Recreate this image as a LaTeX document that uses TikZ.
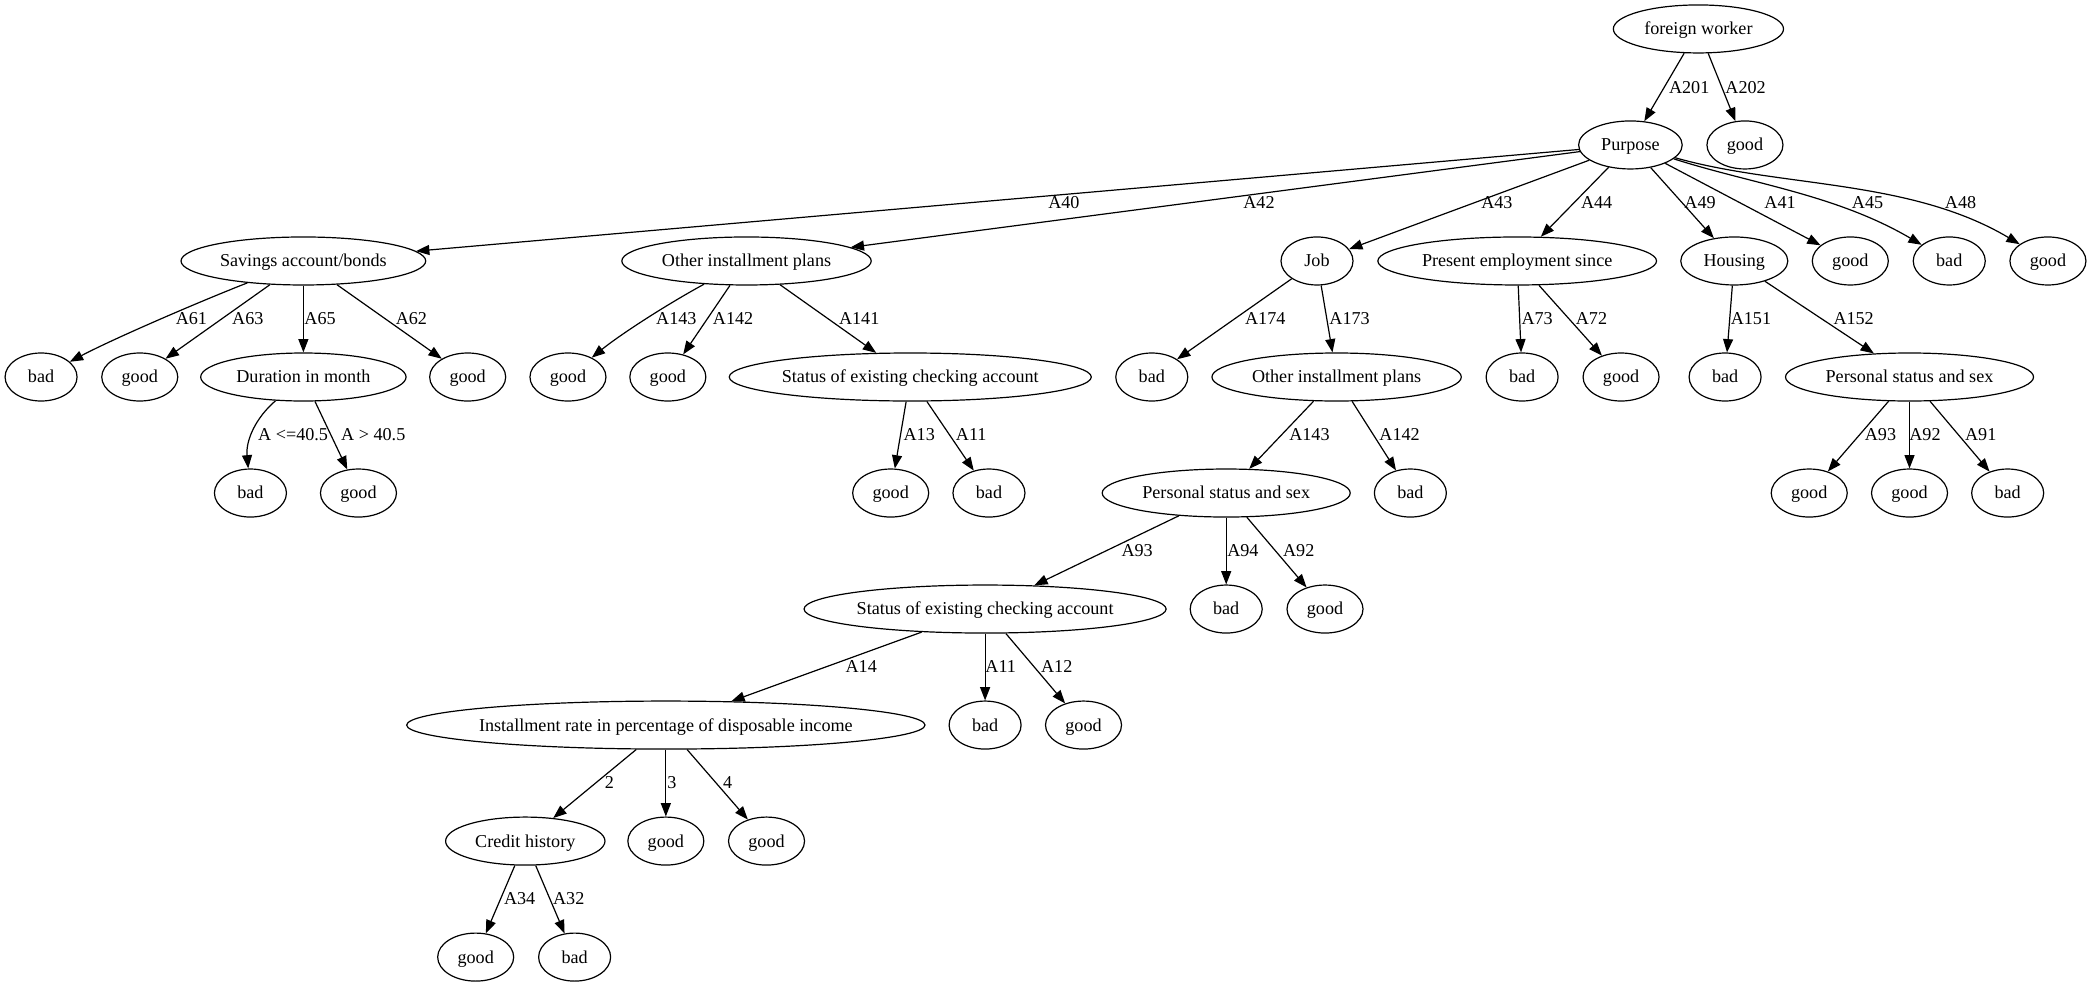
\documentclass[tikz,border=0pt]{standalone}
\usepackage{fontspec}
\setmainfont{Liberation Serif}
\usetikzlibrary{arrows.meta,shapes.geometric}
\newcommand{\zb}[1]{\makebox[0pt]{#1}}
\begin{document}
\begin{tikzpicture}[x=1pt,y=-1pt,
  txt/.style={font=\fontsize{13.6}{16}\selectfont, inner sep=0pt, text height=8.9pt, text depth=0pt},
  nd/.style={txt, draw, ellipse, line width=0.9pt, minimum height=36pt, minimum width=#1},
  gd/.style={nd=57pt},
  bd/.style={nd=54pt},
  lbl/.style={txt},
  conn/.style={line width=0.9pt, -{Triangle[length=10pt,width=7.5pt]}}
]
\useasboundingbox (0,0) rectangle (1568,740);
% row 0
\node[nd=127.6pt] (fw) at (1273.6,21.7) {\zb{foreign worker}};
% row 1
\node[nd=77.7pt] (pur) at (1222.6,108.7) {\zb{Purpose}};
\node[gd] (g202) at (1308.5,108.7) {\zb{good}};
% row 2
\node[nd=183.5pt] (sav) at (227.5,195.7) {\zb{Savings account/bonds}};
\node[nd=187pt] (oipa) at (559.8,195.7) {\zb{Other installment plans}};
\node[bd] (job) at (987.6,195.7) {\zb{Job}};
\node[nd=209pt] (pes) at (1137.7,195.7) {\zb{Present employment since}};
\node[nd=80.3pt] (hou) at (1300.5,195.7) {\zb{Housing}};
\node[gd] (g41) at (1387.5,195.7) {\zb{good}};
\node[bd] (b45) at (1461.7,195.7) {\zb{bad}};
\node[gd] (g48) at (1535.7,195.7) {\zb{good}};
% row 3
\node[bd] (b61) at (30.8,282.7) {\zb{bad}};
\node[gd] (g63) at (104.8,282.7) {\zb{good}};
\node[nd=154pt] (dur) at (227.5,282.7) {\zb{Duration in month}};
\node[gd] (g62) at (350.7,282.7) {\zb{good}};
\node[gd] (g143) at (425.9,282.7) {\zb{good}};
\node[gd] (g142) at (500.8,282.7) {\zb{good}};
\node[nd=271.5pt] (seca) at (682.6,282.7) {\zb{Status of existing checking account}};
\node[bd] (b174) at (863.7,282.7) {\zb{bad}};
\node[nd=187pt] (oipb) at (1002.3,282.7) {\zb{Other installment plans}};
\node[bd] (b73) at (1141.4,282.7) {\zb{bad}};
\node[gd] (g72) at (1215.6,282.7) {\zb{good}};
\node[bd] (b151) at (1293.6,282.7) {\zb{bad}};
\node[nd=186pt] (pssa) at (1431.9,282.7) {\zb{Personal status and sex}};
% row 4
\node[bd] (ble) at (187.8,369.7) {\zb{bad}};
\node[gd] (ggt) at (268.8,369.7) {\zb{good}};
\node[gd] (g13) at (667.9,369.7) {\zb{good}};
\node[bd] (b11) at (741.6,369.7) {\zb{bad}};
\node[nd=186pt] (pssb) at (919.5,369.7) {\zb{Personal status and sex}};
\node[bd] (b142) at (1057.6,369.7) {\zb{bad}};
\node[gd] (g93) at (1356.7,369.7) {\zb{good}};
\node[gd] (g92) at (1431.9,369.7) {\zb{good}};
\node[bd] (b91) at (1505.5,369.7) {\zb{bad}};
% row 5
\node[nd=271.5pt] (secb) at (738.7,456.7) {\zb{Status of existing checking account}};
\node[bd] (b94) at (919.5,456.7) {\zb{bad}};
\node[gd] (g92b) at (993.6,456.7) {\zb{good}};
% row 6
\node[nd=388.7pt] (inst) at (499.3,543.7) {\zb{Installment rate in percentage of disposable income}};
\node[bd] (b11b) at (738.7,543.7) {\zb{bad}};
\node[gd] (g12) at (812.5,543.7) {\zb{good}};
% row 7
\node[nd=119.5pt] (ch) at (393.9,630.7) {\zb{Credit history}};
\node[gd] (g3) at (499.3,630.7) {\zb{good}};
\node[gd] (g4) at (574.8,630.7) {\zb{good}};
% row 8
\node[gd] (g34) at (356.7,717.7) {\zb{good}};
\node[bd] (b32) at (430.9,717.7) {\zb{bad}};

% edges
\draw[conn] (fw) -- (pur);
\draw[conn] (fw) -- (g202);
\draw[conn] (pur) -- (sav);
\draw[conn] (pur) -- (oipa);
\draw[conn] (pur) -- (job);
\draw[conn] (pur) -- (pes);
\draw[conn] (pur) -- (hou);
\draw[conn] (pur) -- (g41);
\draw[conn] (pur) .. controls (1314.1,138) and (1376.8,145.9) .. (b45);
\draw[conn] (pur) .. controls (1334.7,140.7) and (1431.8,134) .. (g48);
\draw[conn] (sav) .. controls (150,226) and (85,254) .. (b61);
\draw[conn] (sav) -- (g63);
\draw[conn] (sav) -- (dur);
\draw[conn] (sav) -- (g62);
\draw[conn] (dur) .. controls (192,313) and (184.2,330) .. (ble);
\draw[conn] (dur) -- (ggt);
\draw[conn] (oipa) .. controls (497,230) and (463.7,252) .. (g143);
\draw[conn] (oipa) -- (g142);
\draw[conn] (oipa) -- (seca);
\draw[conn] (seca) -- (g13);
\draw[conn] (seca) -- (b11);
\draw[conn] (job) -- (b174);
\draw[conn] (job) -- (oipb);
\draw[conn] (oipb) -- (pssb);
\draw[conn] (oipb) -- (b142);
\draw[conn] (pssb) -- (secb);
\draw[conn] (pssb) -- (b94);
\draw[conn] (pssb) -- (g92b);
\draw[conn] (secb) -- (inst);
\draw[conn] (secb) -- (b11b);
\draw[conn] (secb) -- (g12);
\draw[conn] (inst) -- (ch);
\draw[conn] (inst) -- (g3);
\draw[conn] (inst) -- (g4);
\draw[conn] (ch) -- (g34);
\draw[conn] (ch) -- (b32);
\draw[conn] (pes) -- (b73);
\draw[conn] (pes) -- (g72);
\draw[conn] (hou) -- (b151);
\draw[conn] (hou) -- (pssa);
\draw[conn] (pssa) -- (g93);
\draw[conn] (pssa) -- (g92);
\draw[conn] (pssa) -- (b91);

% edge labels
\node[lbl] (l201) at (1266.7,65.5) {A201};
\node[lbl] (l202) at (1309,65.5) {A202};
\node[lbl] (l40) at (797.8,151.7) {A40};
\node[lbl] (l42) at (944.1,151.7) {A42};
\node[lbl] (l43) at (1122.5,151.7) {A43};
\node[lbl] (l44) at (1197.3,151.7) {A44};
\node[lbl] (l49) at (1274.8,151.7) {A49};
\node[lbl] (l41) at (1334.8,151.7) {A41};
\node[lbl] (l45) at (1400.4,151.7) {A45};
\node[lbl] (l48) at (1470.2,151.7) {A48};
\node[lbl] (l61) at (143.5,238.7) {A61};
\node[lbl] (l63) at (185.8,238.7) {A63};
\node[lbl] (l65) at (240,238.7) {A65};
\node[lbl] (l62) at (308.5,238.7) {A62};
\node[lbl] (l143a) at (507.2,238.7) {A143};
\node[lbl] (l142a) at (549.7,238.7) {A142};
\node[lbl] (l141) at (644.3,238.7) {A141};
\node[lbl] (l174) at (948.8,238.7) {A174};
\node[lbl] (l173) at (1012,238.7) {A173};
\node[lbl] (l73) at (1152.7,238.7) {A73};
\node[lbl] (l72) at (1193.4,238.7) {A72};
\node[lbl] (l151) at (1313,238.7) {A151};
\node[lbl] (l152) at (1390,238.7) {A152};
\node[lbl] (lle) at (219.8,325.9) {A <=40.5};
\node[lbl] (lgt) at (279.9,325.9) {A > 40.5};
\node[lbl] (l13) at (689.3,325.9) {A13};
\node[lbl] (l11a) at (728.3,325.9) {A11};
\node[lbl] (l143b) at (981.9,325.9) {A143};
\node[lbl] (l142b) at (1049.5,325.9) {A142};
\node[lbl] (l93a) at (1410.1,325.9) {A93};
\node[lbl] (l92a) at (1443.5,325.9) {A92};
\node[lbl] (l91) at (1485.3,325.9) {A91};
\node[lbl] (l93b) at (852.7,412.5) {A93};
\node[lbl] (l94) at (932,412.5) {A94};
\node[lbl] (l92b) at (973.9,412.5) {A92};
\node[lbl] (l14) at (645.8,500) {A14};
\node[lbl] (l11b) at (750.4,500) {A11};
\node[lbl] (l12) at (792.4,500) {A12};
\node[lbl] (l2) at (457,587) {2};
\node[lbl] (l3) at (503.8,587) {3};
\node[lbl] (l4) at (545.7,587) {4};
\node[lbl] (l34) at (389.7,673.7) {A34};
\node[lbl] (l32) at (426.5,673.7) {A32};
\end{tikzpicture}
\end{document}
